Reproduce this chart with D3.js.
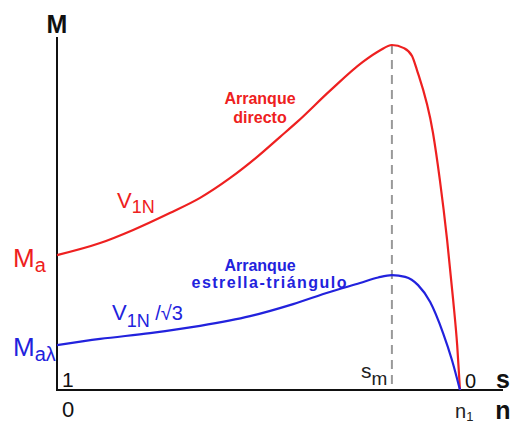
<!DOCTYPE html>
<html><head><meta charset="utf-8">
<script src="https://cdn.jsdelivr.net/npm/d3@7"></script>
<style>body{margin:0;background:#fff}svg{display:block}text{font-family:Arial,"Liberation Sans",Helvetica,sans-serif}</style>
</head><body><svg id="c" width="511" height="423"></svg>
<script>
// slip values (1 = standstill, 0 = synchronous speed n1)
const slipDirect = [1, 0.893, 0.811, 0.72, 0.645, 0.571, 0.504, 0.447, 0.404, 0.323, 0.241, 0.199, 0.169, 0.139, 0.119, 0.107, 0.067, 0.05, 0.032, 0.017, 0.007, 0];
const torqueDirect = [39.1, 42.6, 46.4, 51.3, 55.7, 61.4, 67.5, 73.3, 77.7, 86.7, 95.1, 98.4, 100, 99.1, 96.8, 92.8, 74.5, 60.9, 43.5, 26.1, 13.0, 0];
const slipStarDelta = [1, 0.893, 0.769, 0.645, 0.521, 0.414, 0.323, 0.248, 0.203, 0.169, 0.136, 0.104, 0.074, 0.042, 0.02, 0];
const torqueStarDelta = [13.0, 14.8, 16.5, 18.6, 21.4, 24.9, 28.4, 31.0, 32.6, 33.3, 32.8, 30.4, 25.5, 16.5, 8.7, 0];
const slipMax = 0.169;

const svg = d3.select("#c");
const x = d3.scaleLinear().domain([1, 0]).range([57, 460]);
const y = d3.scaleLinear().domain([0, 100]).range([390, 45]);
const red = "#ee2020", blue = "#2222dd";

// axes
svg.append("line").attr("x1", 57).attr("x2", 57).attr("y1", 37).attr("y2", y(0)).attr("stroke", "#111").attr("stroke-width", 2);
svg.append("line").attr("x1", 56).attr("x2", 503).attr("y1", y(0)).attr("y2", y(0)).attr("stroke", "#111").attr("stroke-width", 2);

// dashed s_m line
svg.append("line").attr("x1", x(slipMax)).attr("x2", x(slipMax)).attr("y1", y(100)).attr("y2", y(0) - 2)
  .attr("stroke", "#999").attr("stroke-width", 2).attr("stroke-dasharray", "9,6");

const line = d3.line().x(d => x(d[0])).y(d => y(d[1])).curve(d3.curveMonotoneX);
svg.append("path").datum(d3.zip(slipDirect, torqueDirect)).attr("d", line).attr("fill", "none").attr("stroke", red).attr("stroke-width", 2.2);
svg.append("path").datum(d3.zip(slipStarDelta, torqueStarDelta)).attr("d", line).attr("fill", "none").attr("stroke", blue).attr("stroke-width", 2.2);

// labels
function t(xp, yp, str, size, color, opts = {}) {
  const e = svg.append("text").attr("x", xp).attr("y", yp).attr("font-size", size).attr("fill", color).text(str);
  if (opts.bold) e.attr("font-weight", "bold");
  if (opts.anchor) e.attr("text-anchor", opts.anchor);
  if (opts.len) e.attr("textLength", opts.len).attr("lengthAdjust", "spacing");
  return e;
}
function sub(xp, yp, main, subs, size, subsize, color, dy) {
  const e = svg.append("text").attr("x", xp).attr("y", yp).attr("font-size", size).attr("fill", color);
  e.append("tspan").text(main);
  e.append("tspan").attr("font-size", subsize).attr("dy", dy).text(subs);
  return e;
}
t(57, 33, "M", 25, "#111", {bold: true, anchor: "middle"});
t(503, 388, "s", 25, "#111", {bold: true, anchor: "middle"});
t(503, 419, "n", 25, "#111", {bold: true, anchor: "middle"});
sub(13, 267, "M", "a", 26, 20, red, 5);
sub(13, 356, "M", "aλ", 26, 20, blue, 5);
t(62, 387, "1", 21, "#111");
t(62, 417, "0", 22, "#111");
t(465, 388, "0", 20, "#111");
sub(361, 378, "s", "m", 21, 19, "#222", 7);
sub(455, 418, "n", "1", 20, 13, "#222", 3);
sub(117, 208, "V", "1N", 22, 18, red, 5);
const vb = sub(112, 320, "V", "1N", 22, 18, blue, 7);
vb.append("tspan").attr("dy", -7).attr("font-size", 20).text(" /√3");
t(260, 104, "Arranque", 16, red, {bold: true, anchor: "middle"});
t(260, 123, "directo", 16, red, {bold: true, anchor: "middle"});
t(260, 271, "Arranque", 16, blue, {bold: true, anchor: "middle"});
t(269, 288, "estrella-triángulo", 16, blue, {bold: true, anchor: "middle", len: 155});
</script></body></html>
